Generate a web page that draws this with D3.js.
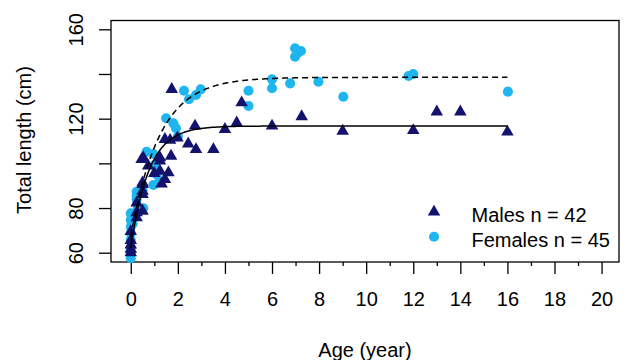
<!DOCTYPE html>
<html>
<head>
<meta charset="utf-8">
<script src="https://cdn.jsdelivr.net/npm/d3@7/dist/d3.min.js"></script>
<style>
  html, body { margin: 0; padding: 0; background: #fff; }
  svg { display: block; font-family: "Liberation Sans", Arial, sans-serif; }
</style>
</head>
<body>
<svg id="chart" width="627" height="360"></svg>
<script>
// Males: age (years) and total length (cm)
const maleAge = [0, 0, 0, 0, 0,
  0.25, 0.25, 0.25,
  0.5, 0.5, 0.5, 0.5, 0.5, 0.46, 0.53,
  0.74, 1.0,
  1.24, 1.24, 1.24,
  1.31, 1.45, 1.45, 1.6, 1.67, 1.71, 1.74, 1.98,
  2.44, 2.77, 2.73, 3.51, 4.0, 4.5, 4.71,
  6, 7.26, 9, 12, 13, 14, 16];
const maleLen = [60.5, 62, 64, 66, 70,
  76.1, 78.4, 82.8,
  79.1, 86.6, 88, 91, 91.8, 102.2, 103,
  99.3, 96,
  101.5, 97, 103,
  91.3, 93.3, 111.2, 96.3, 110.8, 103.7, 133.6, 111.9,
  109.2, 106.7, 117.2, 106.7, 115.7, 118.6, 127.6,
  117.2, 121.4, 114.9, 115.2, 123.5, 123.5, 114.5];

// Females: age (years) and total length (cm)
const femaleAge = [0, 0, 0, 0, 0, 0, 0, 0, 0.08, 0.08,
  0.25, 0.25, 0.25, 0.3,
  0.53, 0.5,
  0.67, 0.96, 1.03, 0.96, 1.2, 1.1,
  1.5, 1.81, 1.92, 2.0,
  2.26, 2.47, 2.77, 2.97,
  5, 5, 6, 6, 6.77,
  6.98, 6.98, 7.23, 7.1,
  7.97, 9.03, 11.8, 12.0, 16.02];
const femaleLen = [57.5, 60, 62, 65.7, 68.7, 71.6, 74.6, 77.6, 76, 73,
  83.9, 87.3, 85.5, 80,
  79.9, 88,
  105.2, 104.2, 99.3, 90.3, 91.5, 95,
  120.2, 117.9, 115.7, 112,
  132.5, 128.7, 130.6, 133.1,
  132.5, 125.7, 137.6, 133.6, 135.8,
  151.5, 147.7, 150.3, 149.5,
  136.5, 129.8, 139.1, 140, 132.1];

// von Bertalanffy growth parameters for the fitted curves
const maleFit = { Linf: 116.7, K: 1.31, t0: -0.578 };
const femaleFit = { Linf: 138.5, K: 0.82, t0: -0.81 };

const xTicks = [0, 2, 4, 6, 8, 10, 12, 14, 16, 18, 20];
const xMinorTicks = [1, 3, 5, 7, 9, 11, 13, 15, 17, 19];
const yTicks = [60, 80, 100, 120, 140, 160];
const yTickLabels = [60, 80, 120, 160];

const legendLabels = ["Males n = 42", "Females n = 45"];
const maleColor = "#13136e";
const femaleColor = "#1fb6ef";

const svg = d3.select("#chart");
const box = { left: 111, right: 619, top: 20.5, bottom: 262 };

const x = d3.scaleLinear().domain([-0.84, 20.74]).range([box.left, box.right]);
const y = d3.scaleLinear().domain([55.84, 163.94]).range([box.bottom, box.top]);

const males = maleAge.map((a, i) => ({ age: a, len: maleLen[i] }));
const females = femaleAge.map((a, i) => ({ age: a, len: femaleLen[i] }));

// plot frame
svg.append("rect")
  .attr("x", box.left).attr("y", box.top)
  .attr("width", box.right - box.left).attr("height", box.bottom - box.top)
  .attr("fill", "none").attr("stroke", "#000").attr("stroke-width", 1.3);

// x axis: major ticks with labels, minor ticks without
const xAxis = svg.append("g").attr("transform", `translate(0,${box.bottom})`)
  .call(d3.axisBottom(x).tickValues(xTicks).tickSize(12).tickPadding(18).tickFormat(d3.format("d")));
xAxis.select(".domain").remove();
xAxis.selectAll("line").attr("stroke-width", 1.3);
xAxis.selectAll("text").attr("font-size", 20).attr("fill", "#000")
  .attr("font-family", "Liberation Sans, Arial, sans-serif");

const xMinor = svg.append("g").attr("transform", `translate(0,${box.bottom})`)
  .call(d3.axisBottom(x).tickValues(xMinorTicks).tickSize(4).tickFormat(""));
xMinor.select(".domain").remove();
xMinor.selectAll("line").attr("stroke-width", 1.3);

// y axis: ticks at every 20, labels where they fit
const yAxis = svg.append("g").attr("transform", `translate(${box.left},0)`)
  .call(d3.axisLeft(y).tickValues(yTicks).tickSize(12)
    .tickFormat(d => yTickLabels.includes(d) ? d3.format("d")(d) : ""));
yAxis.select(".domain").remove();
yAxis.selectAll("line").attr("stroke-width", 1.3);
yAxis.selectAll("text")
  .attr("font-size", 20).attr("fill", "#000")
  .attr("font-family", "Liberation Sans, Arial, sans-serif")
  .attr("text-anchor", "middle").attr("dy", null)
  .attr("x", null)
  .attr("transform", "translate(-28,0) rotate(-90)");

// axis titles
svg.append("text")
  .attr("x", 365).attr("y", 356.5)
  .attr("text-anchor", "middle").attr("font-size", 20).attr("fill", "#000")
  .text("Age (year)");
svg.append("text")
  .attr("transform", "translate(31,140) rotate(-90)")
  .attr("text-anchor", "middle").attr("font-size", 20).attr("fill", "#000")
  .text("Total length (cm)");

// data points
const tri = d3.symbol().type(d3.symbolTriangle).size(68);
const circ = d3.symbol().type(d3.symbolCircle).size(80);

svg.append("g").selectAll("path").data(females).join("path")
  .attr("d", circ)
  .attr("transform", d => `translate(${x(d.age)},${y(d.len)})`)
  .attr("fill", femaleColor);

svg.append("g").selectAll("path").data(males).join("path")
  .attr("d", tri)
  .attr("transform", d => `translate(${x(d.age)},${y(d.len) + 1})`)
  .attr("fill", maleColor);

// fitted growth curves
const vb = p => t => p.Linf * (1 - Math.exp(-p.K * (t - p.t0)));
const ages = d3.range(0, 16.001, 0.05);
const line = d3.line().x(d => x(d[0])).y(d => y(d[1]));

svg.append("path")
  .attr("d", line(ages.map(t => [t, vb(maleFit)(t)])))
  .attr("fill", "none").attr("stroke", "#000").attr("stroke-width", 1.5);
svg.append("path")
  .attr("d", line(ages.map(t => [t, vb(femaleFit)(t)])))
  .attr("fill", "none").attr("stroke", "#000").attr("stroke-width", 1.5)
  .attr("stroke-dasharray", "6,4");

// legend
const legend = svg.append("g");
legend.append("path").attr("d", tri).attr("transform", "translate(434,212)").attr("fill", maleColor);
legend.append("path").attr("d", circ).attr("transform", "translate(434,236.7)").attr("fill", femaleColor);
legend.selectAll("text").data(legendLabels).join("text")
  .attr("x", 471.5).attr("y", (d, i) => 222 + i * 24.5)
  .attr("font-size", 20).attr("fill", "#000")
  .text(d => d);
</script>
</body>
</html>
